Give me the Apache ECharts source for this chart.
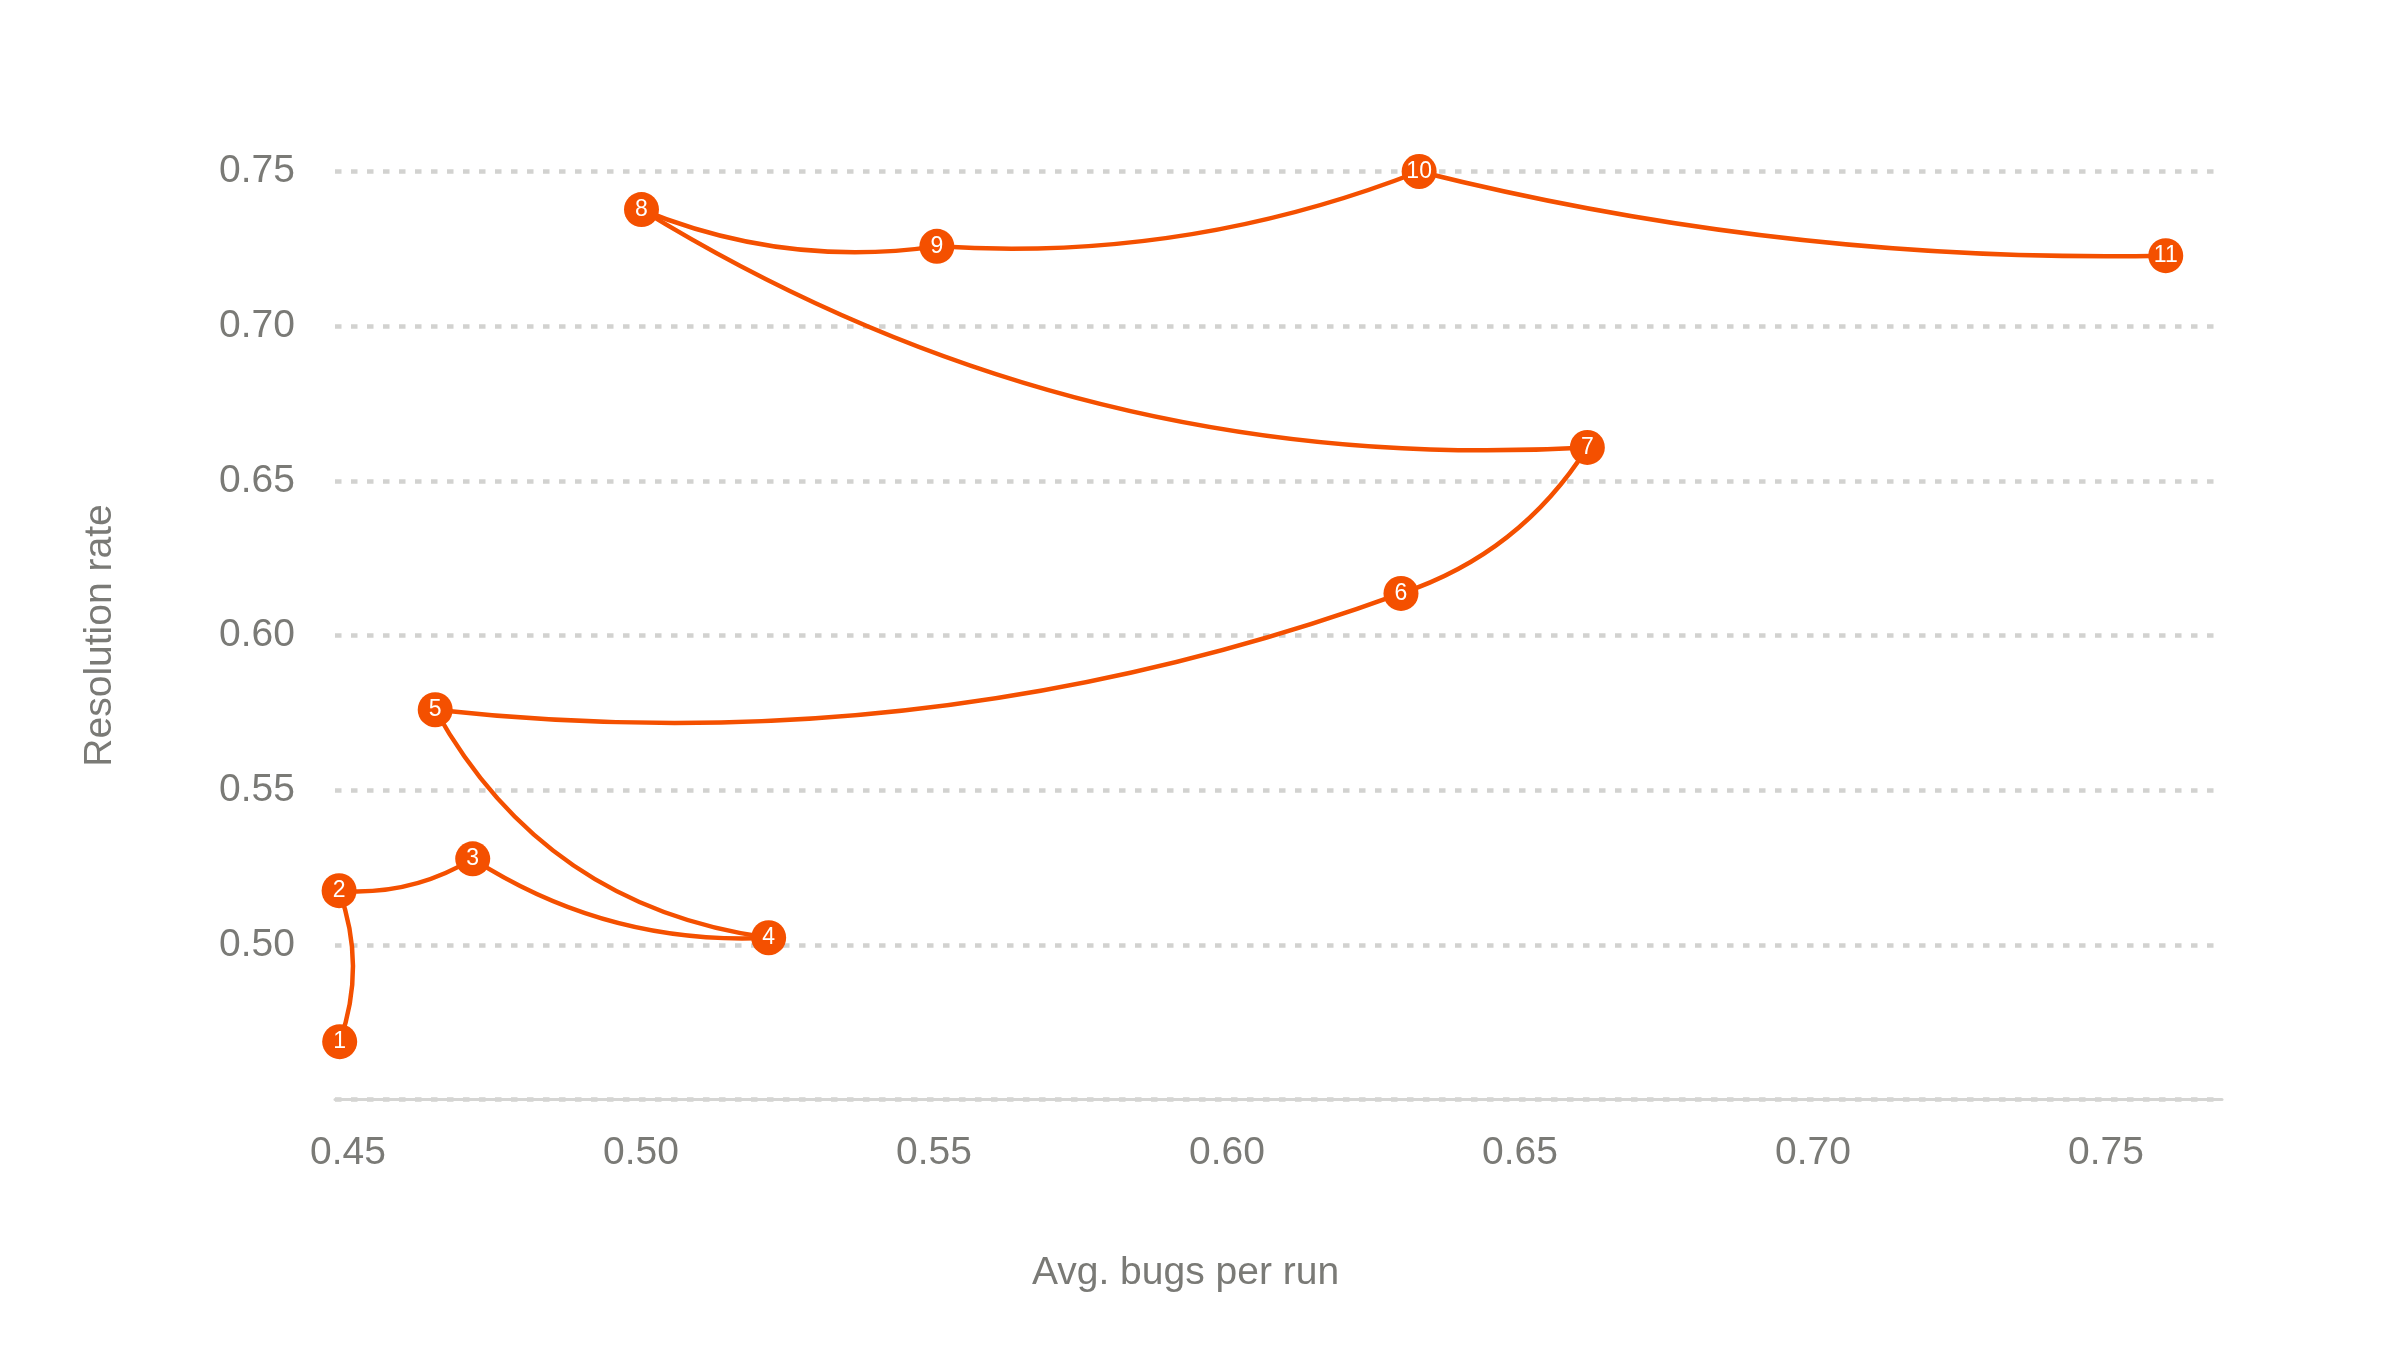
<!DOCTYPE html>
<html>
<head>
<meta charset="utf-8">
<title>Resolution rate vs bugs per run</title>
<script src="https://cdn.jsdelivr.net/npm/echarts@6/dist/echarts.min.js"></script>
<style>
    html, body { margin: 0; padding: 0; background: #fff; }
    #main { width: 2400px; height: 1350px; }
</style>
</head>
<body>
<div id="main"></div>
<script>
// data, in run order 1..11
var runLabels = ['1', '2', '3', '4', '5', '6', '7', '8', '9', '10', '11'];
var bugsPerRun = [0.4486, 0.4485, 0.4713, 0.5218, 0.4649, 0.6297, 0.6615, 0.5001, 0.5505, 0.6328, 0.7602];
var resolutionRate = [0.4687, 0.5175, 0.5278, 0.5023, 0.5760, 0.6136, 0.6608, 0.7377, 0.7258, 0.7500, 0.7228];
var xTicks = [0.45, 0.50, 0.55, 0.60, 0.65, 0.70, 0.75];

// how much each connecting segment bows (style only)
var segmentBend = [0.18, 0.16, 0.16, 0.25, 0.117, 0.178, 0.157, 0.136, 0.111, 0.067];

var orange = '#f45000';
var grey = '#7a7a76';
var font = 'Liberation Sans, Arial, sans-serif';

var myChart = echarts.init(document.getElementById('main'));

var option = {
    backgroundColor: '#fff',
    animation: false,
    grid: { left: 335, right: 178, top: 171.5, bottom: 250.5 },
    xAxis: {
        type: 'value',
        min: 0.4478,
        max: 0.7698,
        name: 'Avg. bugs per run',
        nameLocation: 'middle',
        nameGap: 154,
        // the title sits a bit left of the plot centre
        nameTextStyle: { color: grey, fontSize: 39, fontFamily: font, padding: [0, 186, 0, 0] },
        axisLine: { show: true, lineStyle: { color: '#d5d5d3', width: 3 } },
        axisTick: { show: false },
        splitLine: { show: false },
        axisLabel: {
            customValues: xTicks,
            margin: 34,
            color: grey,
            fontSize: 39,
            fontFamily: font,
            formatter: function (v) { return v.toFixed(2); }
        }
    },
    yAxis: {
        type: 'value',
        min: 0.45,
        max: 0.75,
        interval: 0.05,
        name: 'Resolution rate',
        nameLocation: 'middle',
        nameGap: 215,
        nameTextStyle: { color: grey, fontSize: 39, fontFamily: font },
        axisLine: { show: false },
        axisTick: { show: false },
        splitLine: { show: true, lineStyle: { color: '#d2d2d0', width: 4.5, type: [6.5, 9.5] } },
        axisLabel: {
            showMinLabel: false,
            margin: 40,
            color: grey,
            fontSize: 39,
            fontFamily: font,
            formatter: function (v) { return v.toFixed(2); }
        }
    },
    series: []
};
myChart.setOption(option);

// 点位
var points = [];
for (var i = 0; i < bugsPerRun.length; i++) {
    points.push([bugsPerRun[i], resolutionRate[i]]);
}

// each segment is bowed to the lower/right side of the chord on screen
var segments = [];
for (var j = 0; j < points.length - 1; j++) {
    var a = myChart.convertToPixel({ gridIndex: 0 }, points[j]);
    var b = myChart.convertToPixel({ gridIndex: 0 }, points[j + 1]);
    // echarts puts the control point at mid + c*(dy, -dx)
    var turn = ((b[1] - a[1]) - (b[0] - a[0])) >= 0 ? 1 : -1;
    segments.push({
        coords: [points[j], points[j + 1]],
        lineStyle: { curveness: turn * segmentBend[j] }
    });
}

myChart.setOption({
    series: [
        {
            type: 'lines',
            coordinateSystem: 'cartesian2d',
            z: 2,
            silent: true,
            lineStyle: { color: orange, width: 4.5, opacity: 1 },
            data: segments
        },
        {
            type: 'scatter',
            z: 3,
            symbolSize: 35,
            itemStyle: { color: orange, opacity: 1 },
            label: {
                show: true,
                position: 'inside',
                color: '#fff',
                fontSize: 23,
                fontFamily: font,
                formatter: function (p) { return runLabels[p.dataIndex]; }
            },
            data: points
        }
    ]
});
</script>
</body>
</html>
